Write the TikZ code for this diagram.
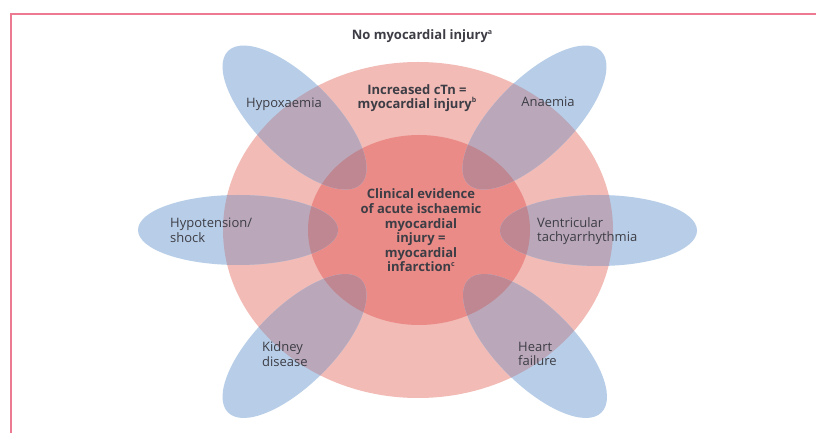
\documentclass[tikz,border=0pt]{standalone}
\usepackage{fontspec}
\setmainfont{Open Sans}
\definecolor{outerpink}{HTML}{F2BBB6}
\definecolor{innerred}{HTML}{EB8B87}
\definecolor{blueell}{HTML}{B8CEE8}
\definecolor{mixouter}{HTML}{BAA8BA}
\definecolor{mixinner}{HTML}{BF8791}
\definecolor{txt}{HTML}{3D3D45}
\definecolor{frame}{HTML}{EC7A90}
\tikzset{
  lbl/.style={inner sep=0pt, text=txt, font=\fontsize{13}{14.6}\selectfont},
  blbl/.style={lbl, font=\fontsize{13}{14.6}\selectfont\bfseries},
}
\newcommand{\supx}[1]{\raisebox{0.45em}{\fontsize{7}{7}\selectfont #1}}
\begin{document}
\begin{tikzpicture}[x=1pt,y=1pt]
\useasboundingbox (0,0) rectangle (816,433);
\fill[white] (0,0) rectangle (816,433);
\draw[frame, line width=2pt] (11,-20) -- (11,419) -- (840,419);
% circles
\def\outerE{(418,203) ellipse [x radius=195, y radius=168]}
\def\innerE{(419,203) ellipse [x radius=111, y radius=95]}
\fill[outerpink] \outerE;
\fill[innerred] \innerE;
% blue ellipses
\def\Ea{(294.5,315.5) ellipse [x radius=94, y radius=39, rotate=-45]}
\def\Eb{(534.5,315.5) ellipse [x radius=94, y radius=39, rotate=45]}
\def\Ec{(238,203) ellipse [x radius=100, y radius=35]}
\def\Ed{(598.5,202.5) ellipse [x radius=98.5, y radius=35.5]}
\def\Ee{(294.5,87) ellipse [x radius=94, y radius=39, rotate=45]}
\def\Ef{(535,87) ellipse [x radius=94, y radius=39, rotate=-45]}
\foreach \E in {\Ea,\Eb,\Ec,\Ed,\Ee,\Ef}{
  \fill[blueell] \E;
  \begin{scope}
    \clip \E;
    \fill[mixouter] \outerE;
    \fill[mixinner] \innerE;
  \end{scope}
}
% texts
\node[blbl, anchor=base] (noinj) at (422,393) {No myocardial injury\supx{a}};
\node[blbl, align=center] (inc) at (417,335) {Increased cTn =\\myocardial injury\supx{b}};
\node[blbl, align=center] (mi) at (421,202.5) {Clinical evidence\\of acute ischaemic\\myocardial\\injury =\\myocardial\\infarction\supx{c}};
\node[lbl, anchor=base] (hypox) at (284,325) {Hypoxaemia};
\node[lbl, anchor=base] (anaem) at (548,326) {Anaemia};
\node[lbl, align=left, anchor=west] (hypot) at (170,203) {Hypotension/\\shock};
\node[lbl, align=left, anchor=west] (vt) at (537,202) {Ventricular\\tachyarrhythmia};
\node[lbl, align=left, anchor=west] (kid) at (262,79) {Kidney\\disease};
\node[lbl, align=left, anchor=west] (hf) at (518,79) {Heart\\failure};
\end{tikzpicture}
\end{document}
